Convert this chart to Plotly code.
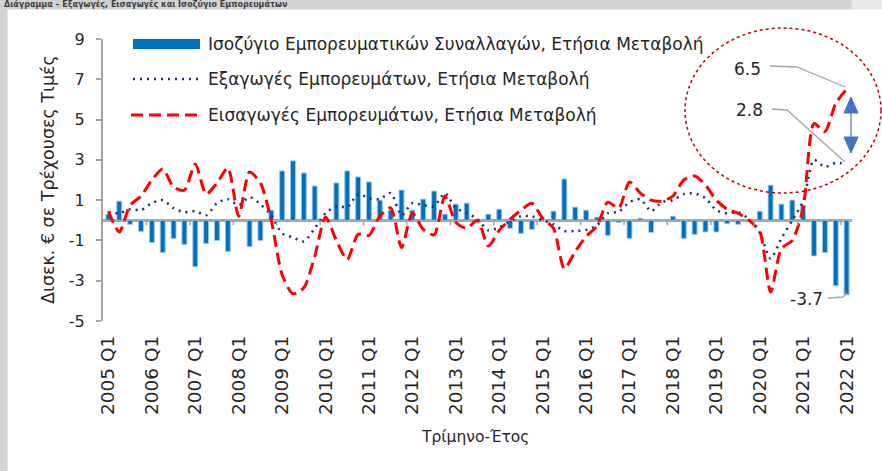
import plotly.graph_objects as go

# ---------------- data ----------------
years = list(range(2005, 2023))
quarters = [f"{y} Q{q}" for y in years for q in (1, 2, 3, 4)][:69]
tick_labels = [f"{y} Q1" for y in years]

balance = [0.3, 0.95, -0.2, -0.55, -1.1, -1.6, -0.9, -1.2,
           -2.3, -1.15, -1.0, -1.55, -0.05, -1.3, -1.0, 0.5,
           2.45, 2.95, 2.35, 1.7, 0.05, 1.85, 2.45, 2.15,
           1.9, 1.0, 0.5, 1.5, 0.5, 1.05, 1.45, 0.3,
           0.8, 0.85, 0.05, 0.3, 0.55, -0.4, -0.65, -0.45,
           -0.05, 0.45, 2.05, 0.65, 0.5, 0.15, -0.75, -0.1,
           -0.9, 0.1, -0.6, 0.0, 0.2, -0.9, -0.7, -0.58,
           -0.58, -0.17, -0.2, 0.0, 0.45, 1.74, 0.8, 1.0,
           0.75, -1.77, -1.6, -3.25, -3.7]

exports = [0.4, 0.35, 0.55, 0.5, 0.85, 1.0, 0.6, 0.4,
           0.45, 0.25, 0.85, 1.05, 0.75, 1.15, 0.8, 0.25,
           -0.65, -0.85, -1.05, -0.4, 0.35, 0.7, 0.65, 1.3,
           1.1, 1.05, 1.35, 0.25, 0.85, 0.75, 0.7, 1.35,
           0.6, 0.38, 0.05, -0.5, -0.35, -0.05, 0.2, 0.2,
           0.0, -0.2, -0.53, -0.53, -0.48, -0.25, 0.35, 0.42,
           0.9, 1.05, 0.45, 0.9, 1.0, 1.3, 1.33, 1.1,
           0.5, 0.35, 0.4, 0.05, -0.6, -1.9, -0.9, 0.0,
           0.95, 3.0, 2.65, 2.85, 2.8]

imports = [0.45, -0.58, 0.75, 1.2, 2.0, 2.55, 1.65, 1.5,
           2.8, 1.3, 1.85, 2.6, 0.2, 2.4, 1.85, 0.0,
           -2.7, -3.65, -3.35, -1.8, 0.15, -1.0, -1.95, -0.7,
           -0.75, 0.2, 0.62, -1.35, 0.35, -0.45, -0.72, 1.2,
           -0.1, -0.4, 0.0, -1.28, -0.5, 0.05, 0.5, 0.85,
           0.1, -0.4, -2.4, -1.55, -0.8, -0.3, 0.9, 0.6,
           1.9, 1.35, 1.0, 0.95, 1.2, 2.0, 2.2, 1.75,
           1.0, 0.55, 0.35, 0.0, -0.55, -3.56, -1.4, -1.0,
           0.6, 4.8, 4.4, 5.8, 6.5]

y_ticks = [-5, -3, -1, 1, 3, 5, 7, 9]

names = ["Ισοζύγιο Εμπορευματικών Συναλλαγών, Ετήσια Μεταβολή",
         "Εξαγωγές Εμπορευμάτων, Ετήσια Μεταβολή",
         "Εισαγωγές Εμπορευμάτων, Ετήσια Μεταβολή"]
callouts = ["6.5", "2.8", "-3.7"]

# ---------------- layout helpers ----------------
W, H = 882, 471
L, R, T, B = 103, 852, 39, 321


def px(x):
    return (x - L) / (R - L)


def py(y):
    return (B - y) / (B - T)


FONT = "DejaVu Sans"
TXT = "#262626"
BLUE = "#0070c0"
NAVY = "#1f2f6e"
RED = "#ff0000"
GRAY = "#a6a6a6"

fig = go.Figure()
fig.add_bar(x=quarters, y=balance, name=names[0], width=0.45,
            marker=dict(color=BLUE, line=dict(color="rgba(157,195,230,0.9)", width=1)),
            showlegend=False)
fig.add_scatter(x=quarters, y=exports, name=names[1], mode="lines",
                line=dict(color=NAVY, width=2.5, dash="2px,5px", shape="spline", smoothing=0.7),
                showlegend=False)
fig.add_scatter(x=quarters, y=imports, name=names[2], mode="lines",
                line=dict(color=RED, width=3, dash="12px,6px", shape="spline", smoothing=0.7),
                showlegend=False)

shapes = []
annotations = []

# tick marks on the zero line at year boundaries
for k in range(1, 18):
    shapes.append(dict(type="line", xref="x", yref="y", x0=4 * k - 0.5, x1=4 * k - 0.5,
                       y0=0, y1=-0.25, line=dict(color=GRAY, width=1.5)))

# gray borders of the screenshot
shapes.append(dict(type="rect", xref="paper", yref="paper", x0=px(0), x1=px(852), y0=py(9), y1=py(0),
                   fillcolor="#d2d2d2", line=dict(color="#d2d2d2", width=1), layer="above"))
shapes.append(dict(type="rect", xref="paper", yref="paper", x0=px(852), x1=px(882), y0=py(9), y1=py(0),
                   fillcolor="#e8e8e8", line=dict(color="#e8e8e8", width=1), layer="above"))
shapes.append(dict(type="rect", xref="paper", yref="paper", x0=px(0), x1=px(7), y0=py(471), y1=py(0),
                   fillcolor="#d2d2d2", line=dict(color="#d2d2d2", width=1), layer="above"))

# manual legend
shapes.append(dict(type="rect", xref="paper", yref="paper", x0=px(133), x1=px(200), y0=py(49), y1=py(39),
                   fillcolor=BLUE, line=dict(width=0)))
shapes.append(dict(type="line", xref="paper", yref="paper", x0=px(133), x1=px(200), y0=py(79), y1=py(79),
                   line=dict(color=NAVY, width=2.5, dash="2px,5px")))
shapes.append(dict(type="line", xref="paper", yref="paper", x0=px(131), x1=px(200), y0=py(115), y1=py(115),
                   line=dict(color=RED, width=3, dash="12px,6px")))
for txt, yy in zip(names, [44, 79, 115]):
    annotations.append(dict(text=txt, xref="paper", yref="paper", x=px(206), y=py(yy),
                            xanchor="left", yanchor="middle", showarrow=False,
                            font=dict(family=FONT, size=17, color=TXT)))

# ellipse highlight
shapes.append(dict(type="circle", xref="paper", yref="paper", x0=px(685), x1=px(881), y0=py(193), y1=py(28),
                   line=dict(color="#c00000", width=1.5, dash="dot")))

# callout leader lines
def path(points):
    return "M " + " L ".join(f"{px(a):.5f},{py(b):.5f}" for a, b in points)

for pts in [[(770, 66), (797, 67), (845, 87)],
            [(772, 109), (787, 110), (845, 162)],
            [(828, 298), (843, 297), (847, 293)]]:
    shapes.append(dict(type="path", xref="paper", yref="paper", path=path(pts),
                       line=dict(color=GRAY, width=1.3)))

for txt, (cx, cy) in zip(callouts, [(747, 69), (749, 110), (806, 299)]):
    annotations.append(dict(text=txt, xref="paper", yref="paper", x=px(cx), y=py(cy),
                            xanchor="center", yanchor="middle", showarrow=False,
                            font=dict(family=FONT, size=17, color=TXT)))

# double arrow
shapes.append(dict(type="line", xref="paper", yref="paper", x0=px(851), x1=px(851), y0=py(138), y1=py(112),
                   line=dict(color="#8faadc", width=2)))
shapes.append(dict(type="path", xref="paper", yref="paper",
                   path=path([(844, 113), (851, 97), (858, 113)]) + " Z",
                   fillcolor="#4472c4", line=dict(color="#4472c4", width=1)))
shapes.append(dict(type="path", xref="paper", yref="paper",
                   path=path([(844, 137), (851, 153), (858, 137)]) + " Z",
                   fillcolor="#4472c4", line=dict(color="#4472c4", width=1)))

# axis titles
annotations.append(dict(text="Δισεκ. € σε Τρέχουσες Τιμές", xref="paper", yref="paper",
                        x=px(48), y=py(180), textangle=-90, showarrow=False,
                        xanchor="center", yanchor="middle",
                        font=dict(family=FONT, size=17.5, color=TXT)))
annotations.append(dict(text="Τρίμηνο-Έτος", xref="paper", yref="paper",
                        x=px(475), y=py(437), showarrow=False,
                        xanchor="center", yanchor="middle",
                        font=dict(family=FONT, size=15.5, color=TXT)))

# title inside the top band
annotations.append(dict(text="<b>Διάγραμμα – Εξαγωγές, Εισαγωγές και Ισοζύγιο Εμπορευμάτων</b>",
                        xref="paper", yref="paper", x=px(2), y=py(4.5),
                        xanchor="left", yanchor="middle", showarrow=False,
                        font=dict(family=FONT, size=8, color="#404040")))

fig.update_layout(
    width=W, height=H,
    margin=dict(l=L, r=W - R, t=T, b=H - B, pad=0),
    paper_bgcolor="white", plot_bgcolor="white",
    bargap=0.5,
    shapes=shapes, annotations=annotations,
    showlegend=False,
    xaxis=dict(type="category", categoryorder="array", categoryarray=quarters,
               range=[-0.5, 68.5], tickmode="array", tickvals=tick_labels, ticktext=tick_labels,
               tickangle=-90, ticks="", showline=False, showgrid=False, zeroline=False,
               ticklabelstandoff=10,
               tickfont=dict(family=FONT, size=18.5, color=TXT)),
    yaxis=dict(range=[-5, 9], tickmode="array", tickvals=y_ticks, ticktext=[str(v) for v in y_ticks],
               showgrid=False, zeroline=True, zerolinecolor=GRAY, zerolinewidth=3,
               showline=True, linecolor=GRAY, linewidth=2,
               ticks="outside", ticklen=5, tickcolor=GRAY, tickwidth=2,
               ticklabelstandoff=8,
               tickfont=dict(family=FONT, size=16, color=TXT)),
)

fig.write_html("out.html", config={"displayModeBar": False},
               post_script="document.body.style.margin='0';document.body.style.padding='0';")
